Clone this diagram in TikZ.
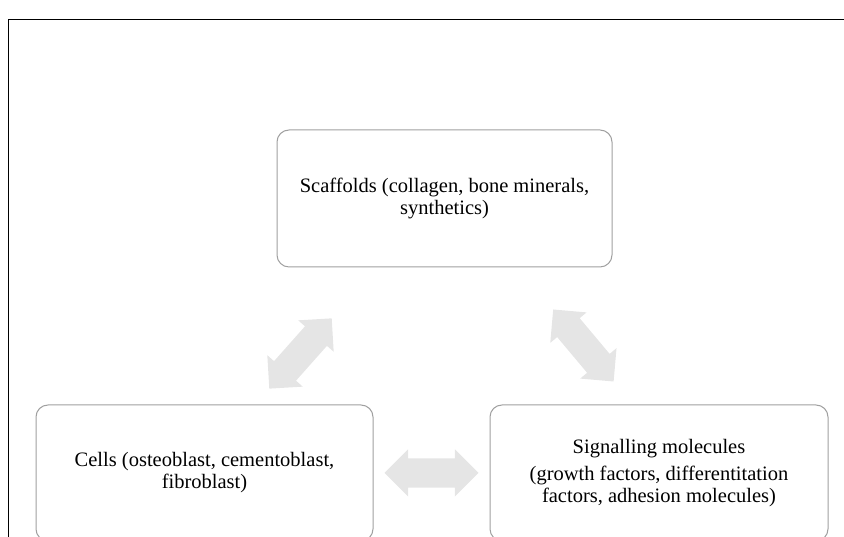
\documentclass[tikz,border=0pt]{standalone}
\usepackage{fontspec}
\setmainfont{Liberation Serif}
\usepackage{xcolor}
\usepackage{tikz}
\usetikzlibrary{arrows.meta, positioning, calc, shapes.arrows}

\definecolor{arrowgray}{RGB}{229,229,229}
\definecolor{boxgray}{RGB}{160,160,160}

\begin{document}
\begin{tikzpicture}[>=Stealth, line cap=round, line join=round, x=1pt, y=1pt,
    box/.style={draw=boxgray, line width=1pt, rounded corners=12pt, fill=white,
        inner sep=0pt, align=center, font=\fontsize{20.5}{22}\selectfont},
    fatarrow/.style={double arrow, fill=arrowgray, draw=none, inner xsep=0pt, inner ysep=14.5pt,
        minimum height=94pt, minimum width=47pt, double arrow head extend=9pt}]
    \useasboundingbox (0,0) rectangle (844,537);
    \clip (0,0) rectangle (844,537);

    % Frame
    \draw[line width=1pt] (8,0) -- (8,517.5) -- (844,517.5);

    % Boxes
    \node[box, minimum width=335pt, minimum height=137pt] (scaffolds) at (444.5,338.5)
        {Scaffolds (collagen, bone minerals,\\synthetics)};
    \node[box, minimum width=337pt, minimum height=136pt] (cells) at (204.5,64)
        {Cells (osteoblast, cementoblast,\\fibroblast)};
    \node[box, minimum width=338pt, minimum height=136pt] (signals) at (659,64)
        {Signalling molecules\\[5pt](growth factors, differentitation\\factors, adhesion molecules)};

    % Arrows
    \node[fatarrow] (cellsig) at ($(cells.east)!0.5!(signals.west)$) {};
    \node[fatarrow, rotate=48.4] (cellscaf) at (300.5,183.5) {};
    \node[fatarrow, rotate=-50] (scafsig) at (583.4,191.5) {};

\end{tikzpicture}
\end{document}
